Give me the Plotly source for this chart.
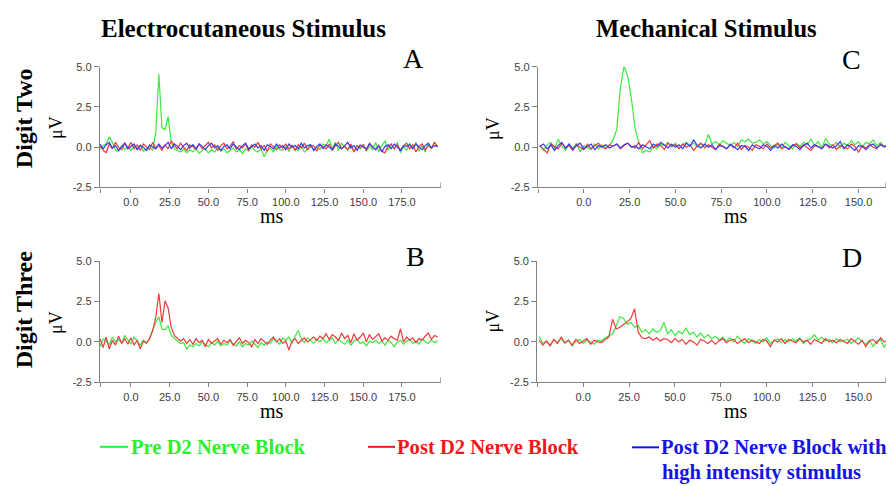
import plotly.graph_objects as go

# ---------------- data ----------------
# sample times (ms)
T_AB_START, T_AB_STEP = -20, 2      # panels A and B : -20 .. 198 ms
T_CD_START, T_CD_STEP = -24, 2      # panels C and D : -24 .. 166 ms

# Panel A : Digit Two, electrocutaneous stimulus
green_A = [
    -0.1, 0.1, 0.2, 0.65, 0.3, -0.2, -0.25, 0.1, -0.15, 0.05,
    -0.2, 0.1, -0.1, 0.15, -0.25, -0.1, 0.05, -0.2, 0.9, 4.55,
    1.2, 1.1, 1.9, 0.3, -0.1, -0.2, -0.3, -0.1, -0.35, -0.15,
    -0.3, -0.05, -0.4, -0.2, -0.1, -0.35, -0.15, -0.3, 0.0, -0.25,
    -0.1, -0.35, -0.2, -0.05, -0.3, -0.15, -0.4, -0.1, -0.25, 0.05,
    -0.2, -0.3, -0.1, -0.6, -0.2, -0.05, -0.3, 0.1, -0.15, -0.2,
    0.05, -0.25, 0.1, -0.1, -0.2, 0.05, -0.3, -0.1, 0.15, -0.2,
    0.0, -0.15, 0.2, 0.1, 0.5, -0.1, 0.3, -0.2, 0.25, 0.0,
    -0.2, 0.15, -0.3, 0.1, -0.1, 0.2, -0.25, 0.05, -0.15, 0.3,
    -0.3, 0.1, 0.4, -0.2, 0.15, -0.1, 0.3, -0.35, 0.05, -0.2,
    0.25, -0.1, 0.3, -0.25, 0.1, -0.3, 0.2, -0.1, 0.3, 0.05,
]
red_A = [
    0.1, -0.2, -0.35, 0.2, -0.1, 0.3, 0.0, -0.15, 0.25, -0.05,
    0.3, -0.1, 0.15, -0.2, 0.2, 0.05, -0.15, 0.3, -0.05, 0.1,
    -0.2, 0.15, -0.1, 0.4, 0.1, -0.1, 0.25, 0.0, -0.2, 0.15,
    0.05, -0.15, 0.2, -0.1, 0.1, 0.3, -0.05, 0.15, -0.2, 0.1,
    0.25, -0.1, 0.05, 0.35, -0.15, 0.1, -0.05, 0.2, -0.2, 0.15,
    0.0, 0.3, -0.1, 0.1, -0.25, 0.2, 0.05, -0.15, 0.15, -0.05,
    0.2, -0.1, 0.1, -0.2, 0.15, -0.05, 0.25, -0.15, 0.05, 0.1,
    -0.25, 0.15, 0.05, -0.1, 0.2, -0.2, 0.1, 0.3, -0.1, 0.05,
    -0.15, 0.2, -0.3, 0.1, -0.05, 0.15, -0.2, 0.25, 0.0, -0.15,
    0.1, -0.25, -0.35, 0.05, 0.2, -0.1, 0.15, -0.2, 0.1, 0.25,
    -0.1, 0.15, -0.3, 0.05, 0.2, -0.15, 0.1, -0.05, 0.3, 0.0,
]
blue_A = [
    0.2, -0.1, 0.15, 0.3, -0.05, 0.1, -0.2, 0.05, 0.25, -0.1,
    0.05, 0.2, -0.15, 0.1, 0.0, -0.2, 0.15, 0.05, -0.1, 0.2,
    -0.05, 0.1, 0.3, -0.1, 0.2, 0.05, -0.15, 0.1, 0.25, -0.05,
    0.15, -0.1, 0.2, 0.05, -0.15, 0.1, 0.25, -0.05, 0.1, -0.2,
    0.05, 0.15, -0.1, 0.2, 0.0, -0.15, 0.1, 0.25, -0.1, 0.05,
    0.2, -0.05, 0.1, -0.2, 0.15, 0.05, -0.1, 0.2, -0.05, 0.1,
    -0.15, 0.2, 0.0, 0.1, -0.1, 0.25, -0.05, 0.1, 0.15, -0.2,
    0.05, 0.2, -0.1, 0.15, 0.0, -0.15, 0.2, 0.05, -0.1, 0.1,
    0.3, -0.05, 0.1, -0.2, 0.15, 0.0, -0.1, 0.2, 0.05, -0.15,
    0.1, -0.3, 0.05, 0.15, -0.1, 0.2, 0.0, -0.2, 0.1, 0.05,
    0.15, -0.1, 0.2, 0.0, -0.15, 0.1, 0.25, -0.05, 0.1, 0.05,
]

# Panel B : Digit Three, electrocutaneous stimulus
green_B = [
    -0.3, 0.2, 0.05, -0.2, 0.3, 0.0, 0.15, -0.1, 0.4, 0.1,
    -0.15, 0.3, 0.05, -0.2, 0.1, -0.05, 0.2, 0.7, 1.2, 1.55,
    0.8, 0.75, 1.0, 0.4, 0.2, 0.05, -0.1, -0.05, -0.45, -0.2,
    -0.3, -0.1, -0.25, 0.0, -0.15, -0.3, -0.05, -0.2, 0.05, -0.25,
    -0.1, -0.2, 0.1, -0.15, -0.25, 0.0, -0.3, -0.1, -0.2, 0.05,
    -0.15, -0.35, -0.05, -0.2, 0.0, -0.1, 0.2, 0.05, -0.15, 0.25,
    0.1, 0.3, -0.1, 0.35, 0.7, 0.2, -0.05, 0.25, 0.1, -0.1,
    0.15, 0.0, 0.2, -0.05, 0.1, 0.25, -0.1, 0.15, 0.0, -0.15,
    0.1, -0.2, 0.05, 0.15, -0.1, 0.0, -0.25, 0.05, -0.05, 0.1,
    -0.1, 0.05, -0.2, 0.1, -0.05, -0.3, 0.0, 0.1, -0.15, 0.05,
    0.15, -0.1, 0.05, -0.15, 0.2, 0.0, -0.1, 0.1, -0.05, 0.05,
]
red_B = [
    0.2, -0.35, 0.3, -0.45, 0.1, -0.2, 0.35, -0.1, 0.2, -0.15,
    0.25, -0.2, 0.1, -0.45, 0.05, -0.1, 0.2, 0.7, 1.5, 3.0,
    1.2, 2.55, 2.1, 0.9, 0.4, 0.2, 0.05, 0.2, -0.1, 0.15,
    -0.15, 0.2, -0.05, 0.1, -0.3, 0.15, -0.1, 0.05, 0.2, -0.15,
    0.1, -0.05, 0.15, -0.2, 0.05, 0.25, -0.1, 0.1, -0.05, -0.3,
    0.15, -0.1, 0.2, 0.05, -0.15, 0.1, 0.3, 0.0, 0.2, -0.1,
    0.05, -0.5, 0.05, 0.2, -0.1, 0.1, 0.25, 0.0, 0.15, 0.3,
    0.1, 0.35, 0.2, 0.5, 0.15, 0.45, 0.3, 0.1, 0.55, 0.2,
    0.4, -0.05, 0.5, 0.1, 0.3, 0.55, 0.0, 0.45, 0.15, 0.35,
    0.5, 0.05, 0.25, 0.1, 0.35, 0.2, 0.1, 0.8, 0.0, 0.3,
    0.1, 0.25, -0.05, 0.2, 0.1, 0.35, 0.55, 0.15, 0.4, 0.3,
]

# Panel C : Digit Two, mechanical stimulus
green_C = [
    0.1, -0.2, 0.15, 0.3, -0.1, 0.5, 0.05, -0.2, 0.2, -0.1,
    0.25, -0.3, 0.1, 0.0, -0.15, 0.2, -0.1, 0.15, -0.05, 0.1,
    0.45, 1.1, 3.7, 5.05, 4.4, 3.0, 1.2, 0.3, -0.35, -0.2,
    -0.3, 0.05, -0.1, 0.2, 0.1, 0.3, 0.0, 0.25, -0.05, 0.15,
    0.3, 0.1, 0.25, 0.0, 0.2, 0.1, 0.8, 0.2, 0.35, 0.15,
    0.4, 0.25, 0.1, 0.3, 0.05, 0.45, 0.35, 0.5, 0.25, 0.3,
    0.45, 0.2, 0.35, 0.1, -0.05, 0.2, 0.0, 0.3, 0.1, -0.1,
    0.25, 0.05, 0.3, 0.15, 0.5, 0.1, 0.35, -0.05, 0.55, 0.2,
    0.1, 0.3, -0.05, 0.25, 0.1, 0.4, 0.15, 0.35, 0.0, 0.3,
    0.2, 0.45, 0.1, 0.3, 0.05, 0.2,
]
red_C = [
    0.1, -0.15, -0.35, 0.2, 0.05, -0.1, 0.25, -0.05, 0.1, -0.2,
    0.15, 0.0, -0.15, 0.2, -0.1, 0.1, 0.25, 0.0, -0.1, 0.15,
    0.05, 0.2, -0.1, 0.1, 0.25, 0.05, -0.05, 0.3, -0.1, 0.15,
    0.4, -0.05, 0.2, 0.1, -0.15, 0.25, 0.05, 0.15, -0.1, 0.2,
    0.0, 0.15, -0.2, 0.1, 0.25, -0.05, 0.15, 0.0, -0.15, 0.2,
    0.05, -0.1, 0.15, -0.05, 0.25, -0.15, 0.1, 0.0, -0.2, 0.15,
    0.05, -0.1, 0.2, -0.05, 0.1, 0.25, -0.1, 0.05, -0.15, 0.1,
    0.2, -0.05, 0.15, 0.0, -0.2, 0.1, 0.05, -0.1, 0.2, -0.05,
    0.15, -0.15, 0.1, 0.0, -0.1, 0.2, 0.05, -0.3, 0.1, -0.05,
    0.15, 0.0, -0.1, 0.2, 0.05, 0.1,
]
blue_C = [
    0.05, 0.2, -0.1, 0.15, -0.2, 0.1, 0.3, -0.05, 0.2, -0.15,
    0.1, 0.25, -0.1, 0.05, 0.2, -0.15, 0.1, 0.0, 0.15, -0.05,
    0.1, 0.2, -0.05, 0.15, 0.25, 0.0, 0.1, -0.1, 0.15, 0.05,
    -0.1, 0.2, 0.05, 0.3, 0.1, -0.05, 0.2, 0.0, 0.15, -0.1,
    0.25, 0.05, 0.45, 0.1, -0.05, 0.2, 0.0, 0.15, -0.15, 0.1,
    0.05, -0.1, 0.2, 0.0, -0.15, 0.1, 0.05, -0.2, 0.15, 0.0,
    -0.1, 0.15, 0.05, -0.2, 0.1, -0.05, 0.2, 0.0, -0.1, 0.15,
    0.05, -0.15, 0.1, 0.25, -0.05, 0.15, 0.0, -0.1, 0.2, 0.05,
    -0.05, 0.1, 0.35, -0.1, 0.15, 0.0, -0.2, 0.1, 0.05, -0.15,
    0.1, 0.2, -0.05, 0.15, 0.0, 0.1,
]

# Panel D : Digit Three, mechanical stimulus
green_D = [
    0.35, -0.1, 0.05, -0.2, 0.15, -0.05, 0.2, -0.1, 0.1, -0.25,
    0.05, 0.15, -0.1, 0.1, 0.0, -0.15, 0.1, 0.05, 0.25, 0.35,
    0.5, 1.0, 1.55, 1.45, 1.1, 1.2, 0.9, 1.0, 0.6, 0.75,
    0.5, 0.8, 0.6, 0.7, 1.2, 0.5, 0.75, 0.4, 0.65, 0.5,
    0.85, 0.45, 0.6, 0.3, 0.55, 0.25, 0.45, 0.2, 0.35, 0.1,
    0.3, 0.05, 0.25, 0.0, 0.35, 0.1, -0.1, 0.2, 0.05, -0.1,
    0.15, 0.0, 0.25, -0.1, 0.1, 0.2, -0.05, 0.15, 0.0, 0.2,
    0.05, 0.25, -0.1, 0.1, 0.2, 0.45, 0.1, 0.3, 0.05, 0.15,
    -0.05, 0.2, 0.0, 0.1, 0.15, -0.1, 0.05, 0.25, 0.0, -0.15,
    0.1, -0.3, 0.05, 0.15, -0.35, 0.0,
]
red_D = [
    0.1, -0.2, 0.05, -0.25, 0.15, -0.1, 0.3, -0.05, 0.1, -0.2,
    0.15, -0.1, 0.05, 0.2, -0.15, 0.1, 0.0, -0.05, 0.15, 0.3,
    1.4, 0.8, 0.9, 1.05, 1.25, 1.45, 2.05, 0.6, 0.25, 0.2,
    0.3, 0.1, 0.25, 0.05, 0.2, 0.15, -0.05, 0.2, 0.0, 0.15,
    -0.15, 0.1, 0.0, -0.2, 0.15, 0.05, -0.1, 0.1, -0.15, 0.05,
    0.2, -0.05, 0.1, 0.15, -0.1, 0.05, 0.2, -0.05, 0.1, 0.0,
    -0.1, 0.15, 0.05, -0.3, 0.1, 0.0, 0.2, -0.1, 0.15, 0.05,
    -0.05, 0.2, 0.0, 0.1, -0.15, 0.15, 0.05, -0.1, 0.2, 0.0,
    0.1, -0.05, 0.15, 0.0, -0.1, 0.2, 0.05, -0.15, 0.1, -0.3,
    0.05, 0.15, -0.1, 0.25, 0.0, 0.1,
]

# axes / tick labels
X_RANGE_AB = [-20, 200]
X_RANGE_CD = [-25, 165]
XTICKS_AB = [0, 25, 50, 75, 100, 125, 150, 175]
XTICKS_CD = [0, 25, 50, 75, 100, 125, 150]
YTICKS = [-2.5, 0.0, 2.5, 5.0]
Y_RANGE = [-2.5, 5.0]

COL_TITLES = ["Electrocutaneous Stimulus", "Mechanical Stimulus"]
ROW_TITLES = ["Digit Two", "Digit Three"]
PANEL_LETTERS = ["A", "B", "C", "D"]
SERIES_NAMES = ["Pre D2 Nerve Block", "Post D2 Nerve Block",
                "Post D2 Nerve Block with", "high intensity stimulus"]

# ---------------- styling ----------------
W, H = 896, 486
GREEN, RED, BLUE = "#3fe83f", "#ee3a3a", "#3a3aee"
LEG_GREEN, LEG_RED, LEG_BLUE = "#2cf02c", "#f01818", "#1414e6"
SERIF = "Liberation Serif, Times New Roman, serif"
SANS = "Liberation Sans, Arial, sans-serif"
AXC = "#808080"


def px(xp):
    return xp / W


def py(yp):
    return 1 - yp / H


def times(start, step, n):
    return [start + step * i for i in range(n)]


fig = go.Figure()

panels = [
    ("A", "", (100, 440.7), (62.3, 186), X_RANGE_AB, XTICKS_AB, T_AB_START, T_AB_STEP,
     [(green_A, GREEN), (red_A, RED), (blue_A, BLUE)]),
    ("B", "2", (100, 440.7), (261.7, 385.7), X_RANGE_AB, XTICKS_AB, T_AB_START, T_AB_STEP,
     [(green_B, GREEN), (red_B, RED)]),
    ("C", "3", (538, 886), (62.3, 186), X_RANGE_CD, XTICKS_CD, T_CD_START, T_CD_STEP,
     [(green_C, GREEN), (red_C, RED), (blue_C, BLUE)]),
    ("D", "4", (537.3, 886), (261.7, 385.7), X_RANGE_CD, XTICKS_CD, T_CD_START, T_CD_STEP,
     [(green_D, GREEN), (red_D, RED)]),
]

layout = {}
shapes = []
for name, sfx, (x0, x1), (yt, yb), xr, xt, t0, dt, series in panels:
    xa = "x" + sfx
    ya = "y" + sfx
    for vals, col in series:
        fig.add_trace(go.Scatter(
            x=times(t0, dt, len(vals)), y=vals, mode="lines",
            line=dict(color=col, width=1.2), xaxis=xa, yaxis=ya,
            showlegend=False, hoverinfo="skip"))
    layout["xaxis" + sfx] = dict(
        domain=[px(x0), px(x1)], range=xr, anchor=ya,
        tickvals=[xr[0]] + xt, ticktext=[""] + [f"{v:.1f}" for v in xt],
        showline=True, linecolor=AXC, linewidth=1.3,
        ticks="outside", ticklen=4, tickwidth=1.2, tickcolor=AXC,
        tickfont=dict(family=SANS, size=11, color="#3c3c3c"),
        showgrid=False, zeroline=False, fixedrange=True)
    layout["yaxis" + sfx] = dict(
        domain=[py(yb), py(yt)], range=Y_RANGE, anchor=xa,
        tickvals=YTICKS, ticktext=[f"{v:.1f}" for v in YTICKS],
        showline=True, linecolor=AXC, linewidth=1.3,
        ticks="outside", ticklen=5, tickwidth=1.2, tickcolor=AXC,
        tickfont=dict(family=SANS, size=11, color="#3c3c3c"),
        showgrid=False, zeroline=False, fixedrange=True)
    # small upward end tick at the right end of the x axis
    shapes.append(dict(type="line", xref=xa, yref="paper",
                       x0=xr[1], x1=xr[1], y0=py(yb), y1=py(yb - 5),
                       line=dict(color=AXC, width=1.2)))

ann = []


def text(t, x, y, size, bold=False, color="black", angle=0, xanchor="center",
         family=SERIF):
    ann.append(dict(text=f"<b>{t}</b>" if bold else t, x=px(x), y=py(y),
                    xref="paper", yref="paper", showarrow=False,
                    xanchor=xanchor, yanchor="middle", textangle=angle,
                    font=dict(family=family, size=size, color=color)))


# column titles
text(COL_TITLES[0], 244, 23, 25, bold=True)
text(COL_TITLES[1], 706, 23, 24.6, bold=True)
# row titles
text(ROW_TITLES[0], 24, 115, 24, bold=True, angle=-90)
text(ROW_TITLES[1], 24, 312, 24, bold=True, angle=-90)
# panel letters
text(PANEL_LETTERS[0], 413, 54, 28)
text(PANEL_LETTERS[1], 415, 257, 28)
text(PANEL_LETTERS[2], 851, 55, 28)
text(PANEL_LETTERS[3], 852, 258, 28)
# axis titles
for (xx, yy) in [(56, 125), (493, 126), (56, 325), (493, 323.5)]:
    text("μV", xx, yy, 18, angle=-90)
for (xx, yy) in [(272, 215), (736, 215), (272, 415), (736, 415)]:
    text("ms", xx, yy, 20)

# legend
for (lx0, lx1, ly, col) in [(100, 128, 452, LEG_GREEN), (368, 395, 452, LEG_RED),
                            (632, 659, 452.5, LEG_BLUE)]:
    shapes.append(dict(type="line", xref="paper", yref="paper",
                       x0=px(lx0), x1=px(lx1), y0=py(ly), y1=py(ly),
                       line=dict(color=col, width=2)))
text(SERIES_NAMES[0], 128.5, 452.5, 20.6, bold=True, color=LEG_GREEN, xanchor="left")
text(SERIES_NAMES[1], 395, 452.5, 20.6, bold=True, color=LEG_RED, xanchor="left")
text(SERIES_NAMES[2], 659, 452.5, 20.6, bold=True, color=LEG_BLUE, xanchor="left")
text(SERIES_NAMES[3], 660, 478, 20.6, bold=True, color=LEG_BLUE, xanchor="left")

fig.update_layout(
    width=W, height=H, margin=dict(l=0, r=0, t=0, b=0),
    paper_bgcolor="white", plot_bgcolor="white",
    showlegend=False, annotations=ann, shapes=shapes, **layout)

fig.write_html("out.html", config={"displayModeBar": False},
               post_script="document.body.style.margin='0';"
                           "document.body.style.overflow='hidden';")
